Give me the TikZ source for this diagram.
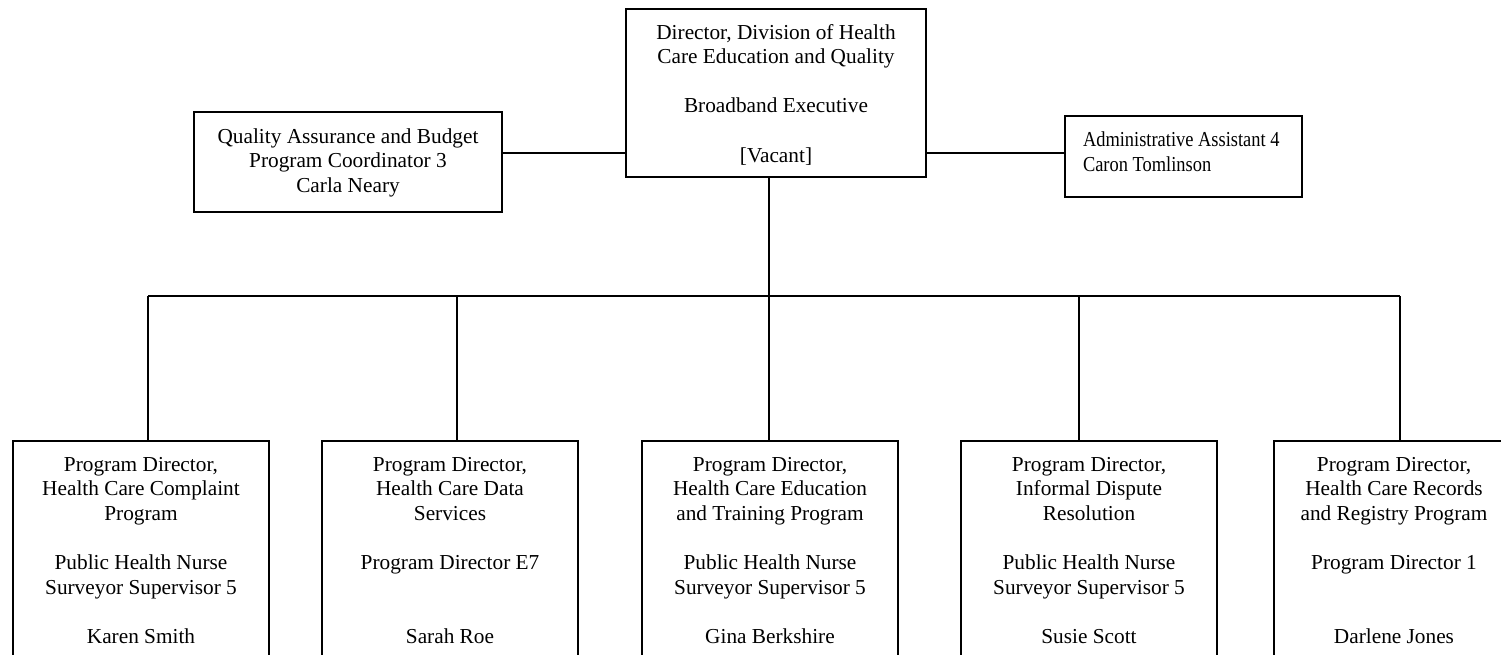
\documentclass[tikz,border=0pt]{standalone}
\usepackage{fontspec}
\setmainfont{Liberation Serif}
\newfontfamily\orgnarrow{Liberation Serif}[FakeStretch=0.865]
\newcommand\orgcbox[4]{\parbox[c][#1pt][t]{#2pt}{\centering\rule{0pt}{#3pt}#4}}
\newcommand\orglbox[5]{\parbox[c][#1pt][t]{#2pt}{\raggedright\leftskip=#4pt\rule{0pt}{#3pt}#5}}
\begin{document}
\begin{tikzpicture}[x=1pt,y=-1pt,
  box/.style={draw, line width=2pt, inner sep=0pt, anchor=north west,
    font=\fontsize{21.3}{24.6}\selectfont},
  conn/.style={line width=2pt}]
\useasboundingbox (0,0) rectangle (1501,654);
\fill[white] (0,0) rectangle (1501,654);
\clip (0,0) rectangle (1501,654);

% top row
\node[box] (dir) at (625,8) {\orgcbox{168}{300}{30}{Director, Division of Health\\Care Education and Quality\\[24.6pt]Broadband Executive\\[24.6pt][Vacant]}};
\node[box] (qa) at (193,111) {\orgcbox{100}{308}{31}{Quality Assurance and Budget\\Program Coordinator 3\\Carla Neary}};
\node[box, font=\orgnarrow\fontsize{21.3}{25}\selectfont] (adm) at (1064,115) {\orglbox{81}{237}{30.5}{18}{Administrative Assistant 4\\Caron Tomlinson}};

% bottom row
\node[box] (b1) at (12,440) {\orgcbox{260}{256}{30}{Program Director,\\Health Care Complaint\\Program\\[24.6pt]Public Health Nurse\\Surveyor Supervisor 5\\[24.6pt]Karen Smith}};
\node[box] (b2) at (321,440) {\orgcbox{260}{256}{30}{Program Director,\\Health Care Data\\Services\\[24.6pt]Program Director E7\\[49.2pt]Sarah Roe}};
\node[box] (b3) at (641,440) {\orgcbox{260}{256}{30}{Program Director,\\Health Care Education\\and Training Program\\[24.6pt]Public Health Nurse\\Surveyor Supervisor 5\\[24.6pt]Gina Berkshire}};
\node[box] (b4) at (960,440) {\orgcbox{260}{256}{30}{Program Director,\\Informal Dispute\\Resolution\\[24.6pt]Public Health Nurse\\Surveyor Supervisor 5\\[24.6pt]Susie Scott}};
\node[box] (b5) at (1273,440) {\orgcbox{260}{240}{30}{Program Director,\\Health Care Records\\and Registry Program\\[24.6pt]Program Director 1\\[49.2pt]Darlene Jones}};

% connector coordinates
\coordinate (hq) at (0,153);
\coordinate (j1) at (148,296);
\coordinate (j2) at (457,296);
\coordinate (j3) at (769,296);
\coordinate (j4) at (1079,296);
\coordinate (j5) at (1400,296);

\draw[conn] (qa.east |- hq) -- (dir.west |- hq);
\draw[conn] (dir.east |- hq) -- (adm.west |- hq);
\draw[conn] (dir.south -| j3) -- (j3);
\draw[conn] (j1) -- (j5);
\draw[conn] (j1) -- (j1 |- b1.north);
\draw[conn] (j2) -- (j2 |- b2.north);
\draw[conn] (j3) -- (j3 |- b3.north);
\draw[conn] (j4) -- (j4 |- b4.north);
\draw[conn] (j5) -- (j5 |- b5.north);
\end{tikzpicture}
\end{document}
